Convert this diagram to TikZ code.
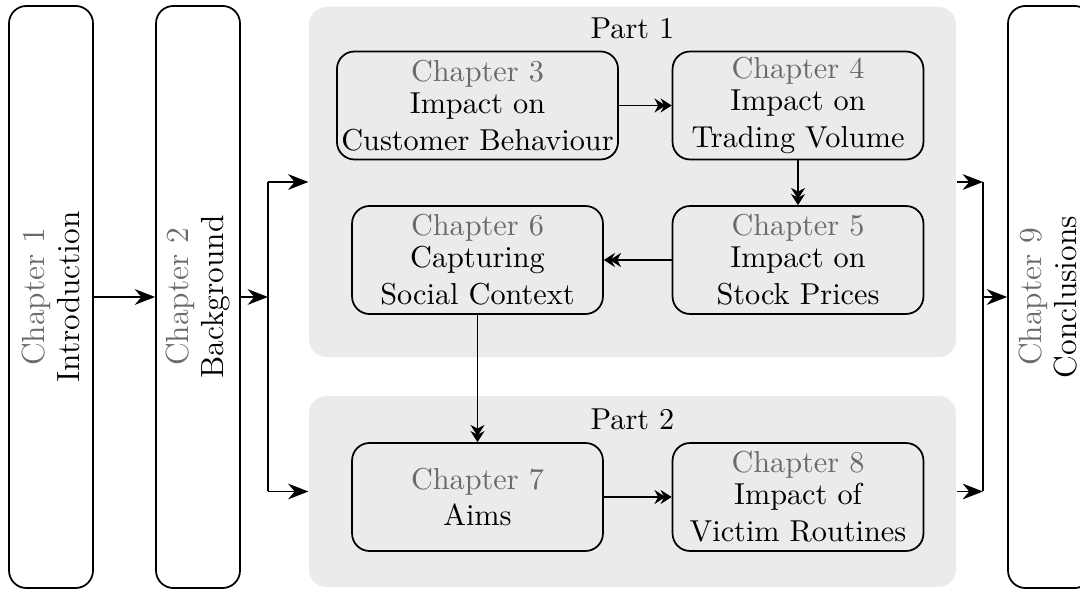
\documentclass[tikz,border=0pt]{standalone}
\usetikzlibrary{arrows.meta}
\definecolor{partfill}{HTML}{EBEBEB}
\definecolor{chapgray}{HTML}{6A6A6A}
\newcommand\chaptag[1]{\textcolor{chapgray}{Chapter #1}}
\begin{document}
\begin{tikzpicture}[x=0.3436pt,y=-0.3436pt,
  vbox/.style={draw,line width=0.6pt,rounded corners=6pt,minimum width=28.86pt,minimum height=200pt,inner sep=0pt},
  vlabel/.style={rotate=90,align=center,inner sep=0pt,font=\fontsize{11}{12.2}\selectfont},
  chapbox/.style={draw,line width=0.6pt,rounded corners=6pt,minimum width=86.2pt,minimum height=37.1pt,inner xsep=1.5pt,inner ysep=0pt,align=center,font=\fontsize{10.4}{12.4}\selectfont},
  parttitle/.style={font=\fontsize{10.4}{12.4}\selectfont},
  partbox/.style={fill=partfill,rounded corners=6pt,inner sep=0pt,minimum width=222.3pt},
  outer/.style={line width=0.6pt,-{Stealth[length=7pt,width=5.4pt]}},
  inner/.style={line width=0.6pt,-{Stealth[length=3.8pt,width=4.8pt,sep=-1.7pt]Stealth[length=3.8pt,width=4.8pt]}},
  link/.style={line width=0.6pt}
]
\useasboundingbox (0,0) rectangle (1080,589);

% grey part panels and their titles
\node[partbox,minimum height=120.3pt] (part1) at (632.5,182) {};
\node[partbox,minimum height=65.6pt] (part2) at (632.5,491.5) {};
\node[parttitle] (part1title) at (632.5,28) {Part 1};
\node[parttitle] (part2title) at (632.5,419) {Part 2};

% tall side columns
\node[vbox] (ch1) at (51,297) {};
\node[vlabel] (ch1text) at (ch1) {\chaptag{1}\\Introduction};
\node[vbox] (ch2) at (198,297) {};
\node[vlabel] (ch2text) at (ch2) {\chaptag{2}\\Background};
\node[vbox] (ch9) at (1050,297) {};
\node[vlabel] (ch9text) at ([xshift=-0.6pt]ch9.center) {\chaptag{9}\\Conclusions};

% chapters inside the parts
\node[chapbox] (ch3) at (477.5,105.5) {\chaptag{3}\\[-1.4pt]Impact on\\[0.4pt]Customer Behaviour};
\node[chapbox] (ch4) at (798,105.5) {\chaptag{4}\\[-1.4pt]Impact on\\[0.4pt]Trading Volume};
\node[chapbox] (ch5) at (798,260) {\chaptag{5}\\[-1.4pt]Impact on\\[0.4pt]Stock Prices};
\node[chapbox] (ch6) at (477.5,260) {\chaptag{6}\\[-1.4pt]Capturing\\[0.4pt]Social Context};
\node[chapbox] (ch7) at (477.5,497) {\chaptag{7}\\Aims};
\node[chapbox] (ch8) at (798,497) {\chaptag{8}\\[-1.4pt]Impact of\\[0.4pt]Victim Routines};

% left fork into the two parts
\draw[outer] (ch1) -- (ch2);
\coordinate (forkL) at (268,297);
\draw[outer] (ch2) -- (forkL);
\coordinate (forkLa) at (forkL |- part1.west);
\coordinate (forkLb) at (forkL |- part2.west);
\draw[link] (forkLa) -- (forkLb);
\draw[outer] (forkLa) -- (part1);
\draw[outer] (forkLb) -- (part2);

% right fork into the conclusions
\coordinate (forkR) at (983,297);
\coordinate (forkRa) at (forkR |- part1.east);
\coordinate (forkRb) at (forkR |- part2.east);
\draw[outer] (part1) -- (forkRa);
\draw[outer] (part2) -- (forkRb);
\draw[link] (forkRa) -- (forkRb);
\draw[outer] (forkR) -- (ch9);

% reading order through the chapters
\draw[inner] (ch3) -- (ch4);
\draw[inner] (ch4) -- (ch5);
\draw[inner] (ch5) -- (ch6);
\draw[inner] (ch6) -- (ch7);
\draw[inner] (ch7) -- (ch8);
\end{tikzpicture}
\end{document}
